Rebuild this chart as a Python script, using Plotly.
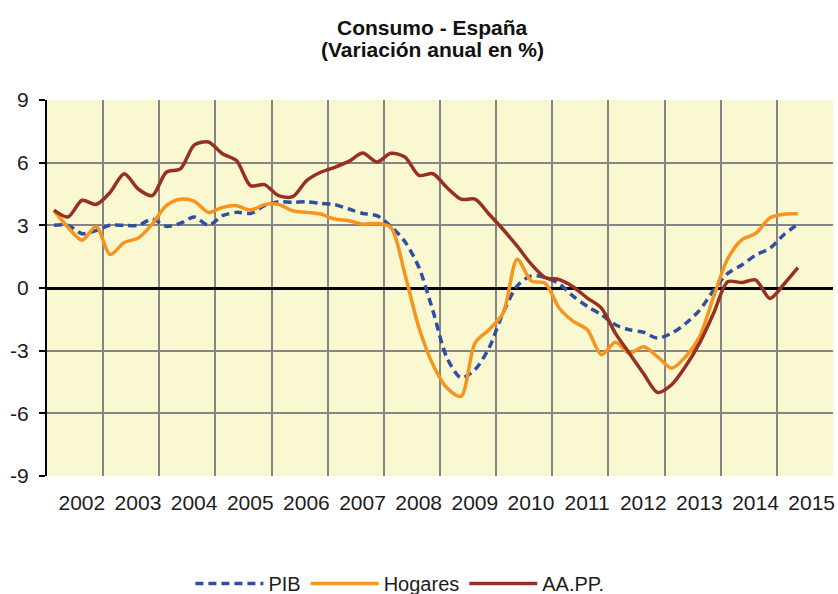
import plotly.graph_objects as go

# Quarterly data 2002Q1 .. 2015Q2
years = list(range(2002, 2016))
quarters = [(y, q) for y in years for q in range(1, 5)][:54]

pib = [3.0, 3.0, 2.6, 2.75, 3.0, 3.0, 3.0, 3.3,
       2.95, 3.1, 3.4, 3.0, 3.46, 3.62, 3.57, 3.94,
       4.13, 4.1, 4.13, 4.05, 3.99, 3.78, 3.57, 3.46,
       2.95, 2.22, 0.98, -1.1, -3.35, -4.3, -3.9, -2.86,
       -1.18, 0.1, 0.58, 0.5, 0.2, -0.4, -0.88, -1.28,
       -1.76, -2.0, -2.12, -2.4, -2.17, -1.7, -1.06, -0.1,
       0.7, 1.1, 1.58, 1.9, 2.55, 3.06]
hogares = [3.7, 2.9, 2.29, 2.95, 1.6, 2.18, 2.39, 3.06,
           3.94, 4.25, 4.15, 3.62, 3.86, 3.94, 3.73, 3.99,
           4.0, 3.7, 3.62, 3.54, 3.3, 3.22, 3.06, 3.09,
           2.9, 0.66, -1.9, -3.67, -4.79, -5.19, -2.63, -1.99,
           -1.2, 1.38, 0.34, 0.22, -0.97, -1.6, -2.0, -3.2,
           -2.6, -3.13, -2.81, -3.29, -3.84, -3.29, -2.33, -0.4,
           1.4, 2.3, 2.62, 3.35, 3.53, 3.55]
aapp = [3.73, 3.4, 4.2, 4.0, 4.58, 5.47, 4.74, 4.42,
        5.54, 5.7, 6.85, 6.99, 6.43, 6.1, 4.9, 4.95,
        4.42, 4.37, 5.14, 5.54, 5.78, 6.06, 6.46, 6.03,
        6.45, 6.27, 5.39, 5.47, 4.8, 4.25, 4.25, 3.53,
        2.8, 2.0, 1.14, 0.5, 0.4, 0.05, -0.48, -0.96,
        -2.17, -3.13, -4.09, -5.0, -4.63, -3.75, -2.63, -1.2,
        0.3, 0.26, 0.38, -0.5, 0.18, 0.97]

y_ticks = [-9, -6, -3, 0, 3, 6, 9]
y_labels = ["-9", "-6", "-3", "0", "3", "6", "9"]
x_labels = [str(y) for y in years]
title_lines = ["Consumo - España", "(Variación anual en %)"]

x = [y + (q - 0.5) / 4 for (y, q) in quarters]

series = [
    ("PIB", pib, "#2F4FA2", "8px,5px", 3.5),
    ("Hogares", hogares, "#F7941D", "solid", 3.5),
    ("AA.PP.", aapp, "#982F20", "solid", 3.5),
]

fig = go.Figure()
for name, vals, color, dash, w in series:
    fig.add_trace(go.Scatter(
        x=x, y=vals, name=name, mode="lines",
        line=dict(color=color, width=w, dash=dash, shape="spline", smoothing=0.8),
    ))

TXT = "#1c1c1c"
fig.update_layout(
    width=838, height=594,
    margin=dict(l=47, r=5, t=100, b=118, autoexpand=False),
    paper_bgcolor="white",
    plot_bgcolor="#FAF8D0",
    font=dict(family="Liberation Sans, Arial, sans-serif", size=21, color=TXT),
    showlegend=True,
    legend=dict(
        orientation="h", x=0.449, xanchor="center",
        y=-0.338, yanchor="bottom",
        itemwidth=68, font=dict(size=20, color=TXT),
        bgcolor="rgba(0,0,0,0)",
    ),
    annotations=[
        dict(text="<b>%s</b>" % title_lines[0], xref="paper", yref="paper",
             x=0.491, y=1.193, xanchor="center", yanchor="middle",
             showarrow=False, font=dict(size=21, color="#111111")),
        dict(text="<b>%s</b>" % title_lines[1], xref="paper", yref="paper",
             x=0.491, y=1.135, xanchor="center", yanchor="middle",
             showarrow=False, font=dict(size=21, color="#111111")),
    ],
)

fig.update_xaxes(
    range=[2002, 2016],
    tickmode="array",
    tickvals=[y + 0.62 for y in years],
    ticktext=x_labels,
    tickangle=0,
    showgrid=False,
    ticks="",
    ticklabelstandoff=12,
    minor=dict(
        tickmode="array",
        tickvals=list(range(2002, 2017)),
        showgrid=True, gridcolor="#858585", gridwidth=1.6,
        ticks="",
    ),
    zeroline=False,
    showline=False,
    fixedrange=True,
)
fig.update_yaxes(
    range=[-9, 9],
    tickmode="array",
    tickvals=y_ticks,
    ticktext=y_labels,
    showgrid=True, gridcolor="#858585", gridwidth=1.6,
    zeroline=True, zerolinecolor="black", zerolinewidth=3,
    showline=True, linecolor="black", linewidth=2,
    ticks="outside", ticklen=6, tickwidth=2, tickcolor="black",
    ticklabelstandoff=6,
    fixedrange=True,
)

fig.write_html(
    "out.html",
    config={"displayModeBar": False},
    post_script="document.body.style.margin='0';document.body.style.overflow='hidden';",
)
